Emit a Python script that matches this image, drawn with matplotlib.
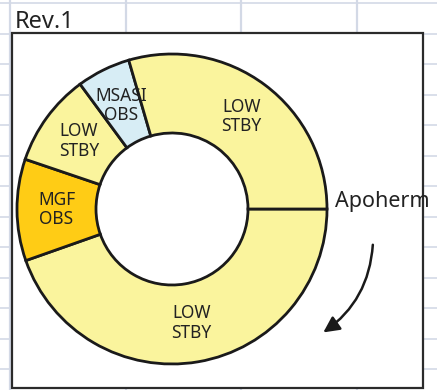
import matplotlib
matplotlib.use("Agg")
import matplotlib.pyplot as plt
from matplotlib.patches import FancyArrowPatch, Rectangle
import numpy as np

# Orbit operation schedule, clockwise from apoherm (share of one orbit, %)
modes = ["LOW\nSTBY", "MGF\nOBS", "LOW\nSTBY", "MSASI\nOBS", "LOW\nSTBY"]
shares = [44.6, 10.6, 9.7, 5.6, 29.5]
colors = ["#FAF49D", "#FFCC15", "#FAF49D", "#D7EDF5", "#FAF49D"]
title = "Rev.1"
start_label = "Apoherm"

W, H = 437, 390
fig = plt.figure(figsize=(W / 100, H / 100), dpi=100)
ax = fig.add_axes([0, 0, 1, 1])

# Worksheet grid behind the chart
grid_c = "#D3D9E6"
for k in range(13):
    y = H - (3 + 30.5 * k)
    ax.plot([0, W], [y, y], color=grid_c, lw=1.2, zorder=0)
for x in [10, 126, 241, 357]:
    ax.plot([x, x], [0, H], color=grid_c, lw=1.6, zorder=0)

# Chart area
frame = Rectangle((12, 2), 411, 355, facecolor="white", edgecolor="#2b2b2b",
                  lw=1.6, zorder=1)
ax.add_patch(frame)

cx, cy, r = 172, H - 209, 155
hole = 76
wedges, _ = ax.pie(shares, colors=colors, startangle=0, counterclock=False,
                   center=(cx, cy), radius=r, frame=True,
                   wedgeprops=dict(width=r - hole, edgecolor="#1a1a1a",
                                   linewidth=2.0))
for w in wedges:
    w.set_zorder(2)
ax.set_xlim(0, W)
ax.set_ylim(0, H)
ax.set_aspect("auto")
ax.axis("off")

# Mode labels at the middle of each ring segment
mid_r = (r + hole) / 2
for w, lab in zip(wedges, modes):
    a = np.deg2rad((w.theta1 + w.theta2) / 2)
    ax.text(cx + mid_r * np.cos(a), cy + mid_r * np.sin(a), lab,
            ha="center", va="center", fontsize=12.5, family="Noto Sans",
            color="#222222", linespacing=1.1, zorder=3)

ax.text(15, H - 28, title, fontsize=17, family="Noto Sans", color="#222222",
        ha="left", va="baseline", zorder=3)
ax.text(335, H - 207, start_label, fontsize=15.5, family="Noto Sans",
        color="#222222", ha="left", va="baseline", zorder=3)

arrow = FancyArrowPatch((373, H - 242), (321, H - 334),
                        connectionstyle="arc3,rad=-0.25", arrowstyle="-|>",
                        mutation_scale=24, lw=1.8, color="#1a1a1a", zorder=3)
ax.add_patch(arrow)

fig.savefig("out.png", dpi=100)
